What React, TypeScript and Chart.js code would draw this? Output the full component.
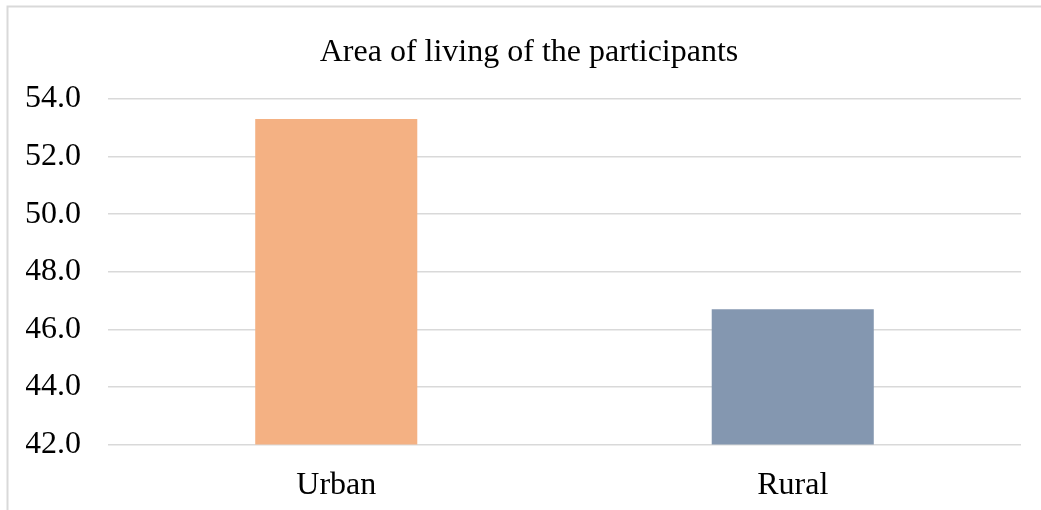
import React, { useEffect, useRef } from "react";
import { Chart, registerables } from "chart.js";

Chart.register(...registerables);

// Share of participants by area of living (%)
const categories = ["Urban", "Rural"];
const shares = [53.3, 46.7];
const barColors = ["#F4B183", "#8497B0"];
const yTickMin = 42;
const yTickMax = 54;
const yTickStep = 2;

const FONT = "'Liberation Serif', 'Times New Roman', serif";

// Light grey frame along the left and top edges of the chart
const framePlugin = {
  id: "frame",
  beforeDraw(chart: Chart) {
    const { ctx, width, height } = chart;
    ctx.save();
    ctx.strokeStyle = "#d9d9d9";
    ctx.lineWidth = 2;
    ctx.beginPath();
    ctx.moveTo(7.5, height);
    ctx.lineTo(7.5, 6.5);
    ctx.lineTo(width, 6.5);
    ctx.stroke();
    ctx.restore();
  },
};

// Centre the title over the whole framed area rather than the padded box
const titleShiftPlugin = {
  id: "titleShift",
  afterLayout(chart: any) {
    const t = chart.titleBlock;
    if (t) {
      t.left += 5.5;
      t.right += 5.5;
    }
  },
};

export default function App() {
  const canvasRef = useRef<HTMLCanvasElement | null>(null);

  useEffect(() => {
    if (!canvasRef.current) return;
    const chart = new Chart(canvasRef.current, {
      type: "bar",
      data: {
        labels: categories,
        datasets: [
          {
            data: shares,
            backgroundColor: barColors,
            borderWidth: 0,
            categoryPercentage: 1,
            barPercentage: 0.355,
          },
        ],
      },
      plugins: [framePlugin, titleShiftPlugin],
      options: {
        responsive: false,
        animation: false,
        devicePixelRatio: 1,
        layout: { padding: { left: 26, right: 20, top: 0, bottom: -9 } },
        plugins: {
          legend: { display: false },
          tooltip: { enabled: false },
          title: {
            display: true,
            text: "Area of living of the participants",
            color: "#000",
            font: { family: FONT, size: 32, weight: "normal" },
            padding: { top: 33, bottom: 27.5 },
          },
        },
        scales: {
          x: {
            grid: { display: false },
            border: { display: false },
            ticks: {
              color: "#000",
              padding: 14,
              font: { family: FONT, size: 32 },
            },
          },
          y: {
            min: yTickMin,
            max: yTickMax,
            border: { display: false },
            grid: { color: "#d9d9d9", lineWidth: 1.5, drawTicks: false },
            afterFit(scale: any) {
              scale.width = 82;
            },
            ticks: {
              stepSize: yTickStep,
              color: "#000",
              padding: 27,
              font: { family: FONT, size: 32 },
              callback: (v: any) => Number(v).toFixed(1),
            },
          },
        },
      },
    } as any);
    return () => chart.destroy();
  }, []);

  return (
    <div style={{ position: "fixed", left: 0, top: 0, width: 1041, height: 510, background: "#fff" }}>
      <canvas ref={canvasRef} width={1041} height={510} style={{ width: 1041, height: 510, display: "block" }} />
    </div>
  );
}
